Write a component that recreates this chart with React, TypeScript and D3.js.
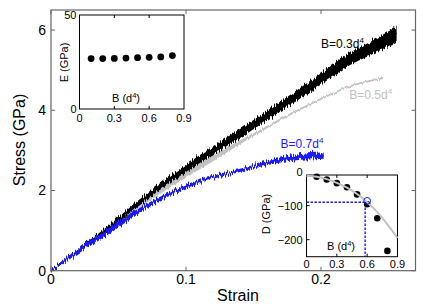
import React from 'react'
import * as d3 from 'd3'

// main stress-strain curves (strain, stress GPa, noise half-width GPa)
const strainB03 = [0, 0.02, 0.04, 0.06, 0.08, 0.1, 0.12, 0.14, 0.16, 0.18, 0.2, 0.22, 0.24, 0.256]
const stressB03 = [0, 0.5, 1.0, 1.55, 2.08, 2.55, 3.0, 3.42, 3.87, 4.32, 4.78, 5.25, 5.6, 5.9]
const noiseB03 = [0.02, 0.04, 0.05, 0.07, 0.08, 0.09, 0.1, 0.11, 0.12, 0.13, 0.14, 0.15, 0.17, 0.19]

const strainB05 = [0, 0.02, 0.04, 0.06, 0.08, 0.1, 0.12, 0.14, 0.16, 0.18, 0.2, 0.22, 0.246]
const stressB05 = [0, 0.5, 1.0, 1.5, 1.98, 2.4, 2.8, 3.2, 3.58, 3.95, 4.28, 4.58, 4.8]
const noiseB05 = [0.01, 0.03, 0.05, 0.07, 0.08, 0.08, 0.07, 0.05, 0.03, 0.02, 0.01, 0.01, 0.01]

const strainB07 = [0, 0.02, 0.04, 0.06, 0.08, 0.1, 0.12, 0.14, 0.16, 0.18, 0.19, 0.202]
const stressB07 = [0, 0.48, 0.92, 1.38, 1.78, 2.1, 2.33, 2.5, 2.68, 2.82, 2.85, 2.87]
const noiseB07 = [0.02, 0.06, 0.07, 0.07, 0.05, 0.05, 0.04, 0.04, 0.05, 0.07, 0.08, 0.08]

const xTicks = [0, 0.1, 0.2]
const yTicks = [0, 2, 4, 6]

// inset 1: modulus E vs B
const insetB = [0.1, 0.2, 0.3, 0.4, 0.5, 0.6, 0.7, 0.8]
const modulusE = [26.8, 26.8, 26.9, 27.1, 27.3, 27.5, 27.7, 28.4]
const insetXTicks = [0, 0.3, 0.6, 0.9]
const eTicks = [0, 50]

// inset 2: D vs B with fit
const coeffD = [-15, -23, -34, -46, -67, -96, -137, -233]
const fitB = [0, 0.1, 0.2, 0.3, 0.4, 0.5, 0.6, 0.7, 0.8, 0.9]
const fitD = [-12, -15, -22, -33, -47, -66, -90, -119, -155, -195]
const dTicks = [0, -100, -200]
const critical = { b: 0.58, d: -90 }
const marked = { b: 0.6, d: -86 }

const BLUE = '#1a1aff'
const GRAY = '#c2c2c2'
const FONT = 'Liberation Sans, Arial, Helvetica, sans-serif'

type Pt = { s: number; v: number; n: number }
const zip = (s: number[], v: number[], n: number[]): Pt[] => s.map((d, i) => ({ s: d, v: v[i], n: n[i] }))

export default function App() {
  const x = d3.scaleLinear().domain([0, 0.27]).range([51, 415.5])
  const y = d3.scaleLinear().domain([0, 6.5]).range([270.7, 10])

  const line = d3.line<Pt>().x(d => x(d.s)).y(d => y(d.v)).curve(d3.curveMonotoneX)
  const band = d3.area<Pt>().x(d => x(d.s)).y0(d => y(d.v - d.n)).y1(d => y(d.v + d.n)).curve(d3.curveMonotoneX)

  const b03 = zip(strainB03, stressB03, noiseB03)
  const b05 = zip(strainB05, stressB05, noiseB05)
  const b07 = zip(strainB07, stressB07, noiseB07)

  // inset scales
  const ix = d3.scaleLinear().domain([0, 0.9]).range([79.5, 184])
  const iy = d3.scaleLinear().domain([0, 50]).range([109, 15])
  const jx = d3.scaleLinear().domain([0, 0.9]).range([306.5, 397.5])
  const jy = d3.scaleLinear().domain([-250, -10]).range([256.7, 175])
  const fitLine = d3.line<number>().x((_, i) => jx(fitB[i])).y(d => jy(d)).curve(d3.curveMonotoneX)

  const [fL, fR] = x.range()
  const [fB, fT] = y.range()

  return (
    <svg width={436} height={305} style={{ position: 'absolute', left: 0, top: 0, background: '#fff' }} fontFamily={FONT}>
      <defs>
        <filter id="jitter" x="-5%" y="-10%" width="110%" height="120%" colorInterpolationFilters="sRGB">
          <feTurbulence type="fractalNoise" baseFrequency="0.9 0.03" numOctaves={2} seed={4} result="n" />
          <feColorMatrix in="n" type="matrix" values="1 0 0 0 0  0 0 0 0 0.5  0 0 0 0 0  0 0 0 0 1" result="m" />
          <feDisplacementMap in="SourceGraphic" in2="m" scale={9} xChannelSelector="G" yChannelSelector="R" />
        </filter>
        <filter id="jitterSmall" x="-5%" y="-10%" width="110%" height="120%" colorInterpolationFilters="sRGB">
          <feTurbulence type="fractalNoise" baseFrequency="0.8 0.03" numOctaves={2} seed={9} result="n" />
          <feColorMatrix in="n" type="matrix" values="1 0 0 0 0  0 0 0 0 0.5  0 0 0 0 0  0 0 0 0 1" result="m" />
          <feDisplacementMap in="SourceGraphic" in2="m" scale={4} xChannelSelector="G" yChannelSelector="R" />
        </filter>
      </defs>

      {/* curves */}
      <g filter="url(#jitterSmall)">
        <path d={band(b05) || ''} fill={GRAY} />
        <path d={line(b05) || ''} fill="none" stroke={GRAY} strokeWidth={1.8} />
      </g>
      <g filter="url(#jitter)">
        <path d={band(b03) || ''} fill="#000" />
        <path d={line(b03) || ''} fill="none" stroke="#000" strokeWidth={1.5} />
      </g>
      <g filter="url(#jitter)">
        <path d={band(b07) || ''} fill={BLUE} />
        <path d={line(b07) || ''} fill="none" stroke={BLUE} strokeWidth={1.3} />
      </g>

      {/* frame */}
      <rect x={fL} y={fT} width={fR - fL} height={fB - fT} fill="none" stroke="#666" strokeWidth={1.2} />
      {xTicks.map(t => (
        <g key={'x' + t}>
          <line x1={x(t)} x2={x(t)} y1={fB} y2={fB - 4} stroke="#666" />
          <line x1={x(t)} x2={x(t)} y1={fT} y2={fT + 4} stroke="#666" />
          <text x={x(t)} y={fB + 13} fontSize={14} textAnchor="middle">{t}</text>
        </g>
      ))}
      {yTicks.map(t => (
        <g key={'y' + t}>
          <line x1={fL} x2={fL + 4} y1={y(t)} y2={y(t)} stroke="#666" />
          <line x1={fR} x2={fR - 4} y1={y(t)} y2={y(t)} stroke="#666" />
          <text x={fL - 5} y={y(t)} fontSize={14} textAnchor="end" dominantBaseline="central">{t}</text>
        </g>
      ))}
      <text x={238} y={300.5} fontSize={16} textAnchor="middle">Strain</text>
      <text transform="translate(25,140) rotate(-90)" fontSize={16} textAnchor="middle">Stress (GPa)</text>

      {/* curve labels */}
      <text x={x(0.2)} y={y(5.55)} fontSize={12} fill="#000">
        B=0.3d<tspan dy={-5} fontSize={8}>4</tspan>
      </text>
      <text x={x(0.221)} y={y(4.28)} fontSize={12} fill={GRAY}>
        B=0.5d<tspan dy={-5} fontSize={8}>4</tspan>
      </text>
      <text x={x(0.17)} y={y(3.07)} fontSize={12} fill={BLUE}>
        B=0.7d<tspan dy={-5} fontSize={8}>4</tspan>
      </text>

      {/* inset 1 */}
      <rect x={ix(0)} y={iy(50)} width={ix(0.9) - ix(0)} height={iy(0) - iy(50)} fill="#fff" stroke="#000" strokeWidth={1} />
      {insetXTicks.map(t => (
        <g key={'ix' + t}>
          {t > 0 && t < 0.9 && <line x1={ix(t)} x2={ix(t)} y1={iy(0)} y2={iy(0) - 3} stroke="#000" />}
          {t > 0 && t < 0.9 && <line x1={ix(t)} x2={ix(t)} y1={iy(50)} y2={iy(50) + 3} stroke="#000" />}
          <text x={ix(t)} y={iy(0) + 12.5} fontSize={11} textAnchor="middle">{t}</text>
        </g>
      ))}
      {eTicks.map(t => (
        <text key={'ey' + t} x={ix(0) - 3} y={iy(t)} fontSize={11} textAnchor="end" dominantBaseline="central">{t}</text>
      ))}
      {insetB.map((b, i) => (
        <circle key={'e' + i} cx={ix(b)} cy={iy(modulusE[i])} r={3.4} fill="#000" />
      ))}
      <text transform="translate(68,62.5) rotate(-90)" fontSize={11} textAnchor="middle">E (GPa)</text>
      <text x={126} y={101.5} fontSize={11} textAnchor="middle">
        B (d<tspan dy={-4} fontSize={7.5}>4</tspan><tspan dy={4}>)</tspan>
      </text>

      {/* inset 2 */}
      <rect x={jx(0)} y={jy(-10)} width={jx(0.9) - jx(0)} height={jy(-250) - jy(-10)} fill="#fff" stroke="#000" strokeWidth={1} />
      {insetXTicks.map(t => (
        <g key={'jx' + t}>
          {t > 0 && t < 0.9 && <line x1={jx(t)} x2={jx(t)} y1={jy(-250)} y2={jy(-250) - 3} stroke="#000" />}
          {t > 0 && t < 0.9 && <line x1={jx(t)} x2={jx(t)} y1={jy(-10)} y2={jy(-10) + 3} stroke="#000" />}
          <text x={jx(t)} y={jy(-250) + 11.5} fontSize={11} textAnchor="middle">{t}</text>
        </g>
      ))}
      {dTicks.map(t => (
        <g key={'dy' + t}>
          {t < 0 && <line x1={jx(0)} x2={jx(0) + 3} y1={jy(t)} y2={jy(t)} stroke="#000" />}
          <text x={jx(0) - 4} y={jy(t)} fontSize={11} textAnchor="end" dominantBaseline="central">{t < 0 ? '\u2212' + Math.abs(t) : t}</text>
        </g>
      ))}
      <polyline
        points={`${jx(0)},${jy(critical.d)} ${jx(critical.b)},${jy(critical.d)} ${jx(critical.b)},${jy(-250)}`}
        fill="none" stroke={BLUE} strokeWidth={1.4} strokeDasharray="2.5,1.5"
      />
      {fitB.length > 0 && insetB.map((b, i) => (
        <circle key={'d' + i} cx={jx(b)} cy={jy(coeffD[i])} r={3.3} fill="#000" />
      ))}
      <path d={fitLine(fitD) || ''} fill="none" stroke={GRAY} strokeWidth={2} />
      <circle cx={jx(marked.b)} cy={jy(marked.d)} r={3.4} fill="none" stroke={BLUE} strokeWidth={1} />
      <text transform="translate(270,214) rotate(-90)" fontSize={11} textAnchor="middle">D (GPa)</text>
      <text x={341} y={250} fontSize={11} textAnchor="middle">
        B (d<tspan dy={-4} fontSize={7.5}>4</tspan><tspan dy={4}>)</tspan>
      </text>
    </svg>
  )
}
